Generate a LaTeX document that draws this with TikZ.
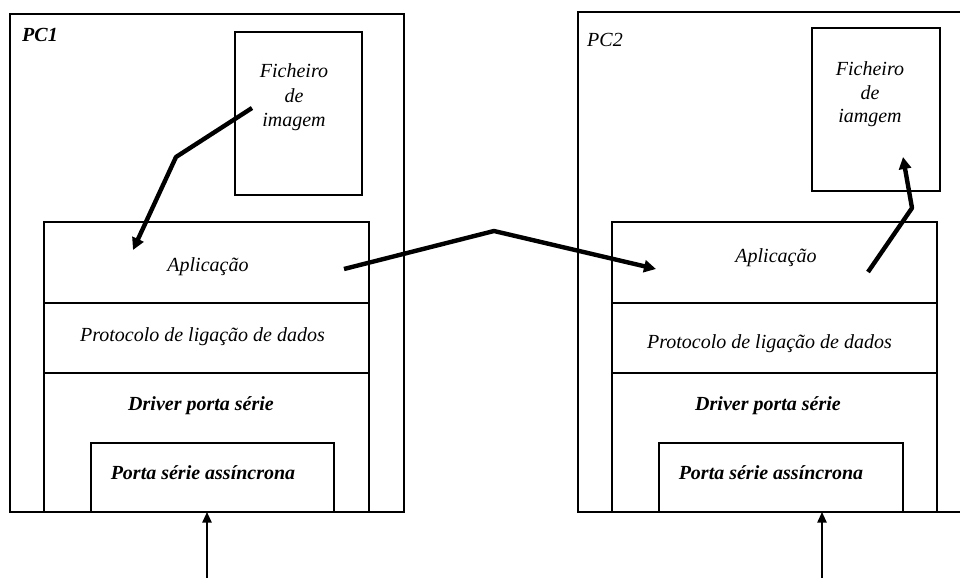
\documentclass[tikz,border=0pt]{standalone}
\usepackage{fontspec}
\setmainfont{Liberation Serif}
\usetikzlibrary{arrows.meta}
\begin{document}
\begin{tikzpicture}[x=0.75pt,y=-0.75pt,
  outerbox/.style={draw, line width=1.4pt},
  layerbox/.style={draw, line width=1.2pt},
  lbl/.style={font=\fontsize{15}{18}\selectfont\itshape, inner sep=0pt, anchor=base},
  blbl/.style={font=\fontsize{15}{18}\selectfont\bfseries\itshape, inner sep=0pt, anchor=base},
  flow/.style={line width=3.3pt, -{Triangle[length=9pt,width=9pt]}, line join=round},
  wire/.style={line width=1.3pt, -{Triangle[length=8pt,width=7pt]}}]
\useasboundingbox (0,0) rectangle (960,578);
% ---------- PC1 ----------
\draw[outerbox] (10,14) rectangle (404,512);
\draw[layerbox] (235,32) rectangle (362,195);
\draw[layerbox] (44,222) rectangle (369,512);
\draw[layerbox] (44,303) -- (369,303);
\draw[layerbox] (44,373) -- (369,373);
\draw[layerbox] (91,443) rectangle (334,512);
\node[blbl] (pc1) at (40,41) {PC1};
\node[lbl] (f1a) at (294,77) {Ficheiro};
\node[lbl] (f1b) at (294,102) {de};
\node[lbl] (f1c) at (294,126) {imagem};
\node[lbl] (app1) at (208,271) {Aplicação};
\node[lbl] (prot1) at (202.5,341) {Protocolo de ligação de dados};
\node[blbl] (drv1) at (201,410) {Driver porta série};
\node[blbl] (port1) at (203,479) {Porta série assíncrona};
% ---------- PC2 ----------
\draw[outerbox] (966,12) -- (578,12) -- (578,512) -- (966,512);
\draw[layerbox] (812,28) rectangle (940,191);
\draw[layerbox] (612,222) rectangle (937,512);
\draw[layerbox] (612,303) -- (937,303);
\draw[layerbox] (612,373) -- (937,373);
\draw[layerbox] (659,443) rectangle (903,512);
\node[lbl] (pc2) at (605,46) {PC2};
\node[lbl] (f2a) at (870,75) {Ficheiro};
\node[lbl] (f2b) at (870,99) {de};
\node[lbl] (f2c) at (870,122) {iamgem};
\node[lbl] (app2) at (776,262) {Aplicação};
\node[lbl] (prot2) at (769.5,348) {Protocolo de ligação de dados};
\node[blbl] (drv2) at (768,410) {Driver porta série};
\node[blbl] (port2) at (771,479) {Porta série assíncrona};
% ---------- arrows ----------
\coordinate (a1s) at (252,108);
\coordinate (a1m) at (176,157);
\coordinate (a1e) at (133,250);
\draw[flow] (a1s) -- (a1m) -- (a1e);
\coordinate (a2s) at (344,269);
\coordinate (a2m) at (494,231);
\coordinate (a2e) at (656,269);
\draw[flow] (a2s) -- (a2m) -- (a2e);
\coordinate (a3s) at (868,272);
\coordinate (a3m) at (912,208);
\coordinate (a3e) at (903,157);
\draw[flow] (a3s) -- (a3m) -- (a3e);
\coordinate (b1s) at (207,578);
\coordinate (b1e) at (207,512);
\draw[wire] (b1s) -- (b1e);
\coordinate (b2s) at (822,578);
\coordinate (b2e) at (822,512);
\draw[wire] (b2s) -- (b2e);
\end{tikzpicture}
\end{document}
